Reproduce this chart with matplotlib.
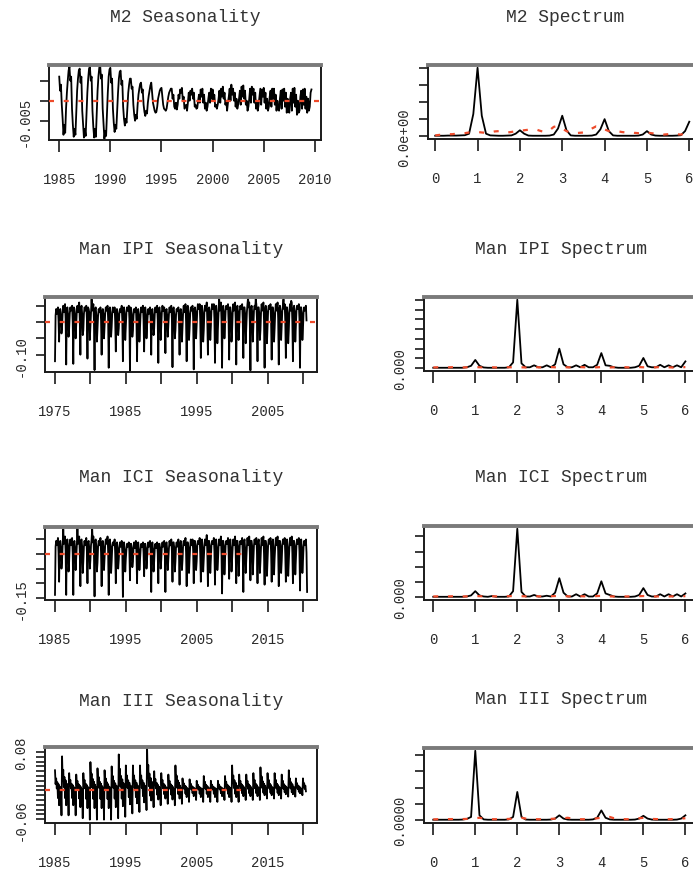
import matplotlib
matplotlib.use("Agg")
import matplotlib.pyplot as plt
import numpy as np

plt.rcParams['font.family'] = ['Liberation Mono', 'DejaVu Sans Mono']
plt.rcParams['lines.scale_dashes'] = False

# ------------------------------------------------------------------ data
# Seasonal components, one row per year (monthly values)
m2_start = 1985
m2_unit = 1e-4
m2_rows = [
    [60, 25, 40, -10, -45, -85, -60, -80, -20, 20, 50, 75],
    [85, 50, 60, -20, -60, -90, -70, -85, -30, 25, 55, 75],
    [80, 45, 60, -25, -60, -92, -70, -88, -35, 20, 55, 80],
    [85, 50, 60, -25, -65, -92, -70, -90, -30, 25, 60, 82],
    [90, 55, 65, -20, -60, -95, -75, -88, -35, 20, 60, 78],
    [82, 45, 55, -20, -55, -78, -60, -70, -25, 20, 55, 72],
    [75, 40, 50, -15, -45, -62, -45, -55, -15, 20, 40, 55],
    [55, 30, 35, -10, -35, -50, -35, -45, -10, 15, 30, 42],
    [45, 20, 28, -10, -28, -38, -25, -32, -5, 12, 25, 38],
    [45, 20, -5, -15, -25, -30, -28, -15, 5, 15, 25, 30],
    [32, 10, -10, -20, -22, -25, -20, -5, 10, 20, 25, 30],
    [30, 5, 15, -15, -20, -5, -22, -10, 15, 5, 28, 20],
    [32, 0, 10, -20, -15, -10, -25, -5, 20, 0, 25, 15],
    [30, 5, 20, -15, -10, -20, -18, 0, 15, -5, 28, 10],
    [30, -5, 15, -20, -5, -25, -15, 5, 20, -5, 30, 5],
    [28, 0, 15, -15, -10, -20, -10, 5, 25, -5, 30, 10],
    [35, 5, 20, -10, 0, -25, -5, 10, 30, 0, 40, 15],
    [30, 0, 20, -15, 5, -20, -10, 5, 25, -10, 35, 10],
    [38, 5, 25, -10, 0, -25, -15, 5, 30, -5, 35, 15],
    [30, -5, 20, -20, 0, -25, -10, 10, 30, -10, 28, 10],
    [32, -5, 20, -20, 5, -25, -15, 10, 25, -15, 30, 5],
    [30, -10, 15, -25, 0, -20, -25, 5, 25, -20, 28, 0],
    [30, -15, 20, -30, 5, -25, -30, 5, 20, -25, 30, -5],
    [32, -15, 15, -35, 0, -30, -25, 10, 25, -20, 28, -10],
    [30, -20, 10, -30, 5, -25, -15, 20, 28],
]

ipi_start = 1975
ipi_unit = 1e-3
ipi_rows = [
    [-120, 20, 40, 25, 30, 45, 5, -60, 35, 40, 20, -35],
    [-15, 30, 50, 30, 35, 55, 10, -130, 40, 45, 25, -45],
    [-20, 25, 45, 35, 40, 50, 0, -128, 45, 40, 20, -50],
    [-10, 35, 50, 30, 45, 60, 5, -100, 40, 50, 25, -40],
    [-25, 25, 45, 40, 35, 50, 10, -112, 45, 40, 30, -55],
    [-15, 30, 70, 35, 40, 55, 0, -147, 40, 45, 20, -60],
    [-20, 20, 40, 30, 35, 45, 5, -100, 35, 40, 25, -50],
    [-10, 25, 45, 35, 40, 50, 10, -140, 40, 45, 20, -45],
    [-15, 30, 45, 30, 35, 45, 0, -90, 35, 40, 25, -40],
    [-20, 25, 40, 30, 40, 50, 5, -120, 40, 45, 20, -55],
    [-10, 30, 45, 35, 35, 50, 10, -150, 45, 40, 25, -45],
    [-25, 20, 40, 30, 35, 45, 0, -120, 35, 40, 20, -60],
    [-15, 25, 45, 30, 40, 50, 5, -90, 40, 45, 25, -50],
    [-10, 20, 40, 25, 35, 45, 10, -100, 35, 40, 20, -40],
    [-20, 25, 45, 30, 40, 50, 5, -125, 40, 45, 25, -55],
    [-15, 30, 50, 35, 35, 45, 0, -95, 35, 40, 20, -45],
    [-10, 25, 45, 30, 40, 50, 10, -138, 40, 45, 25, -50],
    [-25, 20, 40, 35, 35, 45, 5, -100, 35, 40, 20, -60],
    [-15, 30, 50, 30, 40, 55, 0, -120, 45, 50, 25, -55],
    [-20, 25, 45, 35, 45, 50, 10, -145, 40, 45, 30, -50],
    [-10, 35, 55, 40, 40, 55, 5, -110, 45, 50, 25, -60],
    [-25, 30, 50, 35, 45, 60, 0, -100, 40, 45, 30, -55],
    [-15, 35, 55, 40, 40, 55, 10, -125, 45, 50, 25, -65],
    [-20, 30, 75, 35, 45, 60, 5, -140, 40, 50, 30, -50],
    [-10, 35, 50, 40, 40, 55, 0, -115, 45, 45, 25, -60],
    [-25, 30, 55, 35, 45, 60, 10, -130, 40, 50, 30, -55],
    [-15, 35, 50, 40, 40, 55, 5, -110, 45, 45, 25, -65],
    [-20, 30, 55, 75, 45, 60, 0, -148, 40, 50, 30, -60],
    [-10, 35, 50, 40, 70, 55, 10, -120, 45, 45, 25, -55],
    [-25, 30, 55, 35, 45, 60, 5, -140, 40, 50, 30, -65],
    [-15, 35, 50, 40, 40, 55, 0, -115, 45, 45, 25, -60],
    [-20, 30, 55, 35, 45, 60, 10, -130, 40, 50, 30, -55],
    [-10, 35, 50, 70, 40, 55, 5, -110, 45, 45, 25, -65],
    [-25, 30, 55, 35, 65, 60, 0, -120, 40, 50, 30, -60],
    [-15, 35, 50, 40, 40, 55, 10, -140, 45, 45, 25, -55],
    [-20, 30, 45, 35, 40, 50, 5],
]

ici_start = 1985
ici_unit = 1e-3
ici_rows = [
    [-140, 25, 45, 30, 35, 55, 5, -95, 40, 45, 20, -50],
    [-20, 30, 85, 35, 40, 60, 10, -140, 45, 50, 25, -60],
    [-25, 35, 50, 30, 45, 55, 0, -140, 40, 45, 20, -55],
    [-15, 30, 90, 35, 40, 60, 5, -110, 45, 50, 25, -65],
    [-25, 25, 45, 30, 35, 55, 10, -100, 40, 45, 20, -50],
    [-20, 30, 50, 85, 40, 60, 0, -145, 45, 50, 25, -60],
    [-30, 25, 45, 30, 35, 55, 5, -110, 40, 45, 20, -55],
    [-15, 30, 50, 35, 40, 60, 10, -140, 45, 50, 25, -65],
    [-25, 25, 40, 30, 35, 50, 0, -100, 35, 40, 20, -50],
    [-20, 20, 40, 25, 30, 45, 5, -147, 35, 40, 15, -60],
    [-15, 15, 35, 25, 30, 40, 10, -90, 35, 35, 20, -45],
    [-25, 20, 40, 20, 30, 45, 0, -100, 30, 40, 15, -55],
    [-20, 15, 35, 25, 25, 40, 5, -76, 35, 35, 20, -50],
    [-15, 20, 40, 25, 30, 45, 10, -130, 30, 40, 15, -60],
    [-25, 20, 35, 20, 30, 40, 0, -100, 35, 35, 20, -50],
    [-20, 25, 40, 25, 35, 45, 5, -130, 35, 40, 15, -55],
    [-15, 20, 45, 30, 30, 50, 10, -95, 40, 40, 20, -60],
    [-25, 25, 40, 25, 35, 50, 0, -105, 35, 45, 15, -55],
    [-20, 30, 45, 30, 35, 55, 5, -110, 40, 40, 20, -65],
    [-15, 25, 50, 30, 40, 50, 10, -100, 45, 45, 25, -55],
    [-25, 30, 45, 35, 35, 55, 0, -95, 40, 50, 20, -60],
    [-20, 25, 50, 30, 40, 65, 5, -110, 45, 45, 25, -65],
    [-15, 30, 45, 35, 35, 55, 10, -105, 40, 50, 20, -55],
    [-25, 25, 50, 30, 40, 60, 0, -135, 45, 45, 25, -70],
    [-20, 30, 45, 35, 35, 55, 5, -85, 40, 50, 20, -60],
    [-15, 25, 50, 30, 40, 60, 10, -100, 45, 45, 25, -75],
    [-25, 30, 45, 35, 35, 55, 0, -130, 40, 50, 20, -65],
    [-20, 25, 55, 30, 40, 60, 5, -90, 45, 45, 25, -70],
    [-15, 30, 50, 35, 35, 55, 10, -100, 40, 50, 20, -65],
    [-25, 25, 55, 30, 45, 60, 0, -105, 45, 45, 25, -75],
    [-20, 30, 50, 35, 40, 55, 5, -95, 40, 50, 20, -70],
    [-15, 25, 55, 30, 45, 60, 10, -110, 45, 45, 25, -65],
    [-25, 30, 50, 35, 40, 55, 0, -95, 40, 50, 20, -75],
    [-20, 25, 55, 30, 45, 60, 5, -100, 45, 45, 25, -70],
    [-15, 30, 50, 35, 40, 55, 10, -125, 40, 50, 20, -65],
    [-25, 25, 45, 30, 40, 50, 5, -130],
]

iii_start = 1985
iii_unit = 1e-3
iii_rows = [
    [42, 13, 25, 4, 17, -16, 13, -31, 8, -21, 4, -52],
    [71, 21, 43, 7, 28, -16, 21, -31, 14, -21, 7, -52],
    [36, 11, 22, 4, 14, -16, 11, -31, 7, -21, 4, -52],
    [33, 10, 20, 3, 13, -17, 10, -35, 7, -23, 3, -58],
    [36, 11, 22, 4, 14, -18, 11, -37, 7, -24, 4, -61],
    [59, 18, 35, 6, 24, -18, 18, -37, 12, -24, 6, -61],
    [46, 14, 28, 5, 18, -18, 14, -37, 9, -24, 5, -61],
    [42, 13, 25, 4, 17, -18, 13, -37, 8, -24, 4, -61],
    [50, 15, 30, 5, 20, -17, 15, -35, 10, -23, 5, -58],
    [75, 23, 45, 8, 30, -17, 23, -33, 15, -22, 8, -55],
    [52, 16, 31, 5, 21, -14, 16, -29, 10, -19, 5, -48],
    [52, 16, 31, 5, 21, -14, 16, -27, 10, -18, 5, -45],
    [52, 16, 31, 5, 21, -12, 16, -25, 10, -16, 5, -41],
    [88, 26, 53, 9, 35, -11, 26, -21, 18, -14, 9, -35],
    [40, 12, 24, 4, 16, -9, 12, -19, 8, -12, 4, -31],
    [36, 11, 22, 4, 14, -8, 11, -17, 7, -11, 4, -28],
    [33, 10, 20, 3, 13, -9, 10, -19, 7, -12, 3, -31],
    [52, 16, 31, 5, 21, -8, 16, -17, 10, -11, 5, -28],
    [25, 8, 15, 3, 10, -7, 8, -14, 5, -10, 3, -24],
    [23, 7, 14, 2, 9, -6, 7, -12, 5, -8, 2, -20],
    [20, 6, 12, 2, 8, -7, 6, -14, 4, -10, 2, -24],
    [30, 9, 18, 3, 12, -7, 9, -14, 6, -10, 3, -24],
    [20, 6, 12, 2, 8, -7, 6, -14, 4, -10, 2, -24],
    [20, 6, 12, 2, 8, -6, 6, -12, 4, -8, 2, -20],
    [30, 9, 18, 3, 12, -7, 9, -14, 6, -10, 3, -24],
    [52, 16, 31, 5, 21, -7, 16, -14, 10, -10, 5, -24],
    [33, 10, 20, 3, 13, -6, 10, -12, 7, -8, 3, -20],
    [33, 10, 20, 3, 13, -6, 10, -12, 7, -8, 3, -20],
    [36, 11, 22, 4, 14, -6, 11, -12, 7, -8, 4, -20],
    [48, 14, 29, 5, 19, -5, 14, -10, 10, -7, 5, -17],
    [36, 11, 22, 4, 14, -5, 11, -10, 7, -7, 4, -17],
    [36, 11, 22, 4, 14, -5, 11, -10, 7, -7, 4, -17],
    [33, 10, 20, 3, 13, -4, 10, -8, 7, -5, 3, -13],
    [42, 13, 25, 4, 17, -4, 13, -8, 8, -5, 4, -13],
    [25, 8, 15, 3, 10, -3, 8, -6, 5, -4, 3, -10],
    [25, 8, 15, 3, 10, -2],
]

# Spectra: frequency (cycles per year) 0.0 .. 6.0 step 0.1
spec_freq = [i / 10 for i in range(61)]

m2_spec = [
    0.03, 0.03, 0.03, 0.04, 0.04, 0.04, 0.05, 0.06, 0.15, 1.3,
    4.0, 1.2, 0.15, 0.05, 0.04, 0.03, 0.03, 0.04, 0.05, 0.15,
    0.35, 0.15, 0.04, 0.03, 0.03, 0.03, 0.03, 0.04, 0.1, 0.45,
    1.2, 0.35, 0.05, 0.03, 0.03, 0.03, 0.03, 0.04, 0.1, 0.4,
    1.0, 0.3, 0.05, 0.03, 0.03, 0.03, 0.03, 0.03, 0.04, 0.1,
    0.3, 0.1, 0.04, 0.03, 0.03, 0.03, 0.03, 0.04, 0.06, 0.3,
    0.85]
m2_spec_ref = [
    0.05, 0.08, 0.1, 0.12, 0.12, 0.15, 0.15, 0.18, 0.22, 0.25,
    0.25, 0.22, 0.2, 0.22, 0.28, 0.3, 0.25, 0.22, 0.25, 0.3,
    0.32, 0.35, 0.38, 0.4, 0.38, 0.3, 0.25, 0.35, 0.55, 0.6,
    0.45, 0.3, 0.2, 0.18, 0.2, 0.22, 0.3, 0.45, 0.58, 0.55,
    0.4, 0.3, 0.28, 0.3, 0.25, 0.22, 0.25, 0.2, 0.18, 0.2,
    0.22, 0.18, 0.15, 0.12, 0.1, 0.12, 0.15, 0.12, 0.1, 0.15,
    0.2]

ipi_spec = [
    0.05, 0.05, 0.05, 0.05, 0.05, 0.05, 0.05, 0.05, 0.1, 0.25,
    0.85, 0.25, 0.08, 0.05, 0.05, 0.05, 0.05, 0.05, 0.1, 0.6,
    7.0, 0.5, 0.1, 0.1, 0.3, 0.1, 0.1, 0.3, 0.1, 0.4,
    2.0, 0.4, 0.1, 0.1, 0.3, 0.1, 0.35, 0.1, 0.1, 0.35,
    1.55, 0.3, 0.25, 0.1, 0.05, 0.05, 0.05, 0.05, 0.1, 0.25,
    1.05, 0.2, 0.1, 0.1, 0.35, 0.1, 0.3, 0.1, 0.3, 0.1,
    0.7]
ipi_spec_ref = [
    0.08, 0.1, 0.1, 0.08, 0.1, 0.12, 0.1, 0.08, 0.1, 0.12,
    0.12, 0.1, 0.08, 0.1, 0.1, 0.08, 0.1, 0.12, 0.1, 0.1,
    0.12, 0.1, 0.08, 0.1, 0.12, 0.1, 0.08, 0.1, 0.12, 0.1,
    0.12, 0.1, 0.1, 0.08, 0.1, 0.12, 0.1, 0.1, 0.08, 0.1,
    0.12, 0.1, 0.08, 0.1, 0.1, 0.12, 0.1, 0.08, 0.1, 0.12,
    0.1, 0.1, 0.08, 0.1, 0.12, 0.1, 0.1, 0.08, 0.1, 0.1,
    0.12]

ici_spec = [
    0.03, 0.03, 0.03, 0.03, 0.03, 0.03, 0.03, 0.03, 0.05, 0.12,
    0.4, 0.12, 0.05, 0.03, 0.08, 0.03, 0.03, 0.03, 0.05, 0.4,
    4.5, 0.35, 0.05, 0.05, 0.15, 0.05, 0.05, 0.1, 0.05, 0.3,
    1.25, 0.3, 0.05, 0.05, 0.2, 0.05, 0.2, 0.05, 0.05, 0.25,
    1.05, 0.25, 0.15, 0.05, 0.03, 0.03, 0.03, 0.03, 0.05, 0.15,
    0.6, 0.15, 0.05, 0.05, 0.2, 0.05, 0.2, 0.05, 0.2, 0.05,
    0.25]
ici_spec_ref = [
    0.05, 0.06, 0.06, 0.05, 0.06, 0.07, 0.06, 0.05, 0.06, 0.07,
    0.08, 0.07, 0.06, 0.05, 0.06, 0.06, 0.05, 0.06, 0.07, 0.08,
    0.08, 0.07, 0.06, 0.06, 0.07, 0.06, 0.05, 0.06, 0.07, 0.08,
    0.09, 0.08, 0.06, 0.05, 0.06, 0.07, 0.06, 0.05, 0.06, 0.08,
    0.09, 0.07, 0.06, 0.05, 0.06, 0.06, 0.05, 0.06, 0.07, 0.07,
    0.08, 0.07, 0.06, 0.05, 0.06, 0.06, 0.05, 0.06, 0.06, 0.07,
    0.07]

iii_spec = [
    0.03, 0.03, 0.03, 0.03, 0.03, 0.03, 0.03, 0.04, 0.08, 0.2,
    4.25, 0.3, 0.05, 0.03, 0.03, 0.03, 0.03, 0.03, 0.05, 0.2,
    1.73, 0.2, 0.04, 0.03, 0.03, 0.03, 0.03, 0.03, 0.04, 0.1,
    0.3, 0.1, 0.04, 0.03, 0.03, 0.03, 0.03, 0.03, 0.05, 0.15,
    0.6, 0.15, 0.05, 0.03, 0.03, 0.03, 0.03, 0.03, 0.04, 0.1,
    0.27, 0.1, 0.04, 0.03, 0.03, 0.03, 0.03, 0.03, 0.04, 0.1,
    0.3]
iii_spec_ref = [
    0.05, 0.06, 0.06, 0.06, 0.07, 0.07, 0.06, 0.07, 0.08, 0.1,
    0.12, 0.15, 0.1, 0.07, 0.06, 0.06, 0.06, 0.07, 0.08, 0.1,
    0.12, 0.15, 0.1, 0.07, 0.06, 0.06, 0.06, 0.07, 0.08, 0.1,
    0.12, 0.12, 0.15, 0.1, 0.07, 0.06, 0.06, 0.07, 0.08, 0.12,
    0.15, 0.18, 0.2, 0.12, 0.08, 0.07, 0.06, 0.07, 0.08, 0.12,
    0.15, 0.12, 0.08, 0.07, 0.06, 0.06, 0.06, 0.07, 0.08, 0.1,
    0.12]

titles_left = ["M2 Seasonality", "Man IPI Seasonality",
               "Man ICI Seasonality", "Man III Seasonality"]
titles_right = ["M2 Spectrum", "Man IPI Spectrum",
                "Man ICI Spectrum", "Man III Spectrum"]

# ------------------------------------------------------------------ layout
W, H, DPI = 693, 878, 100
fig = plt.figure(figsize=(W / DPI, H / DPI), dpi=DPI)
fig.patch.set_facecolor('white')

RED = '#ee4b2b'
TXT = '#2a2a2a'
DASH = (0, (3.6, 7.0))


def px_axes(l, t, r, b):
    return fig.add_axes([l / W, 1 - b / H, (r - l) / W, (b - t) / H])


def style(ax, title, title_gap_px):
    for s in ['left', 'bottom', 'right']:
        ax.spines[s].set_linewidth(1.4)
        ax.spines[s].set_color('#1a1a1a')
    ax.spines['top'].set_linewidth(2.8)
    ax.spines['top'].set_color('#7a7a7a')
    ax.tick_params(axis='x', direction='out', length=8.8, width=1.2,
                   pad=14.5, labelsize=10, color='#1a1a1a', labelcolor=TXT)
    ax.tick_params(axis='y', direction='out', length=6.5, width=1.2,
                   pad=6.0, labelsize=10, color='#1a1a1a', labelcolor=TXT,
                   labelrotation=90)
    for lbl in ax.get_yticklabels():
        lbl.set_va('center')
    ax.annotate(title, xy=(0.5, 1.0), xycoords='axes fraction',
                xytext=(0, title_gap_px * 72 / DPI), textcoords='offset points',
                ha='center', va='center', fontsize=13, color='#333333')


def series(rows, start, unit):
    vals = np.array([v for row in rows for v in row], dtype=float) * unit
    t = start + np.arange(len(vals)) / 12.0
    return t, vals


# ---- left column: seasonal components
left_specs = [
    (m2_rows, m2_start, m2_unit, (49, 66, 321, 141), (1984.0, 2010.6),
     [1985, 1990, 1995, 2000, 2005, 2010],
     ['1985', '1990', '1995', '2000', '2005', '2010'],
     (-0.0098, 0.0089), [-0.005, 0.0, 0.005], ['-0.005', '', ''], None, 49),
    (ipi_rows, ipi_start, ipi_unit, (45, 298, 317, 373), (1973.59, 2011.98),
     [1975, 1980, 1985, 1990, 1995, 2000, 2005, 2010],
     ['1975', '', '1985', '', '1995', '', '2005', ''],
     (-0.153, 0.0767), [-0.10, -0.05, 0.0, 0.05], ['-0.10', '', '', ''], None, 49),
    (ici_rows, ici_start, ici_unit, (45, 528, 317, 601), (1983.59, 2021.98),
     [1985, 1990, 1995, 2000, 2005, 2010, 2015, 2020],
     ['1985', '', '1995', '', '2005', '', '2015', ''],
     (-0.1575, 0.0925), [-0.15, -0.10, -0.05, 0.0, 0.05], ['-0.15', '', '', '', ''],
     2011.4, 50),
    (iii_rows, iii_start, iii_unit, (45, 748, 317, 824), (1983.59, 2021.98),
     [1985, 1990, 1995, 2000, 2005, 2010, 2015, 2020],
     ['1985', '', '1995', '', '2005', '', '2015', ''],
     (-0.068, 0.0905),
     [-0.06, -0.05, -0.04, -0.03, -0.02, -0.01, 0.0, 0.01, 0.02, 0.03,
      0.04, 0.05, 0.06, 0.07, 0.08],
     ['-0.06'] + [''] * 13 + ['0.08'], 2011.3, 46),
]

for i, (rows, start, unit, rect, xlim, xt, xl, ylim, yt, yl, red_end, gap) in enumerate(left_specs):
    ax = px_axes(*rect)
    t, v = series(rows, start, unit)
    ax.plot(t, v, color='black', lw=1.3, zorder=2)
    if red_end is None:
        ax.axhline(0, color=RED, lw=1.6, linestyle=DASH, zorder=3)
    else:
        frac = (red_end - xlim[0]) / (xlim[1] - xlim[0])
        ax.axhline(0, xmin=0, xmax=frac, color=RED, lw=1.6, linestyle=DASH, zorder=3)
    ax.set_xlim(*xlim)
    ax.set_ylim(*ylim)
    ax.set_xticks(xt, xl)
    ax.set_yticks(yt, yl)
    style(ax, titles_left[i], gap)

# ---- right column: spectra
right_specs = [
    (m2_spec, m2_spec_ref, (428, 66, 702, 140), (-0.17, 6.3), (-0.16, 4.16),
     [0, 1, 2, 3, 4], ['0.0e+00', '', '', '', ''], 49),
    (ipi_spec, ipi_spec_ref, (424, 298, 698, 372), (-0.22, 6.3), (-0.28, 7.28),
     [0, 1, 2, 3, 4, 5, 6, 7], ['0.000', '', '', '', '', '', '', ''], 48),
    (ici_spec, ici_spec_ref, (424, 527, 698, 601), (-0.22, 6.3), (-0.18, 4.68),
     [0, 1, 2, 3, 4], ['0.000', '', '', '', ''], 49),
    (iii_spec, iii_spec_ref, (424, 749, 698, 824), (-0.22, 6.3), (-0.17, 4.42),
     [0, 1, 2, 3, 4], ['0.0000', '', '', '', ''], 49),
]

for i, (spec, spec_ref, rect, xlim, ylim, yt, yl, gap) in enumerate(right_specs):
    ax = px_axes(*rect)
    ax.plot(spec_freq, spec, color='black', lw=1.3, zorder=2)
    ax.plot(spec_freq, spec_ref, color=RED, lw=1.6, linestyle=DASH, zorder=3)
    ax.set_xlim(*xlim)
    ax.set_ylim(*ylim)
    ax.set_xticks([0, 1, 2, 3, 4, 5, 6], ['0', '1', '2', '3', '4', '5', '6'])
    ax.set_yticks(yt, yl)
    style(ax, titles_right[i], gap)

fig.savefig('out.png', dpi=DPI, facecolor='white')
